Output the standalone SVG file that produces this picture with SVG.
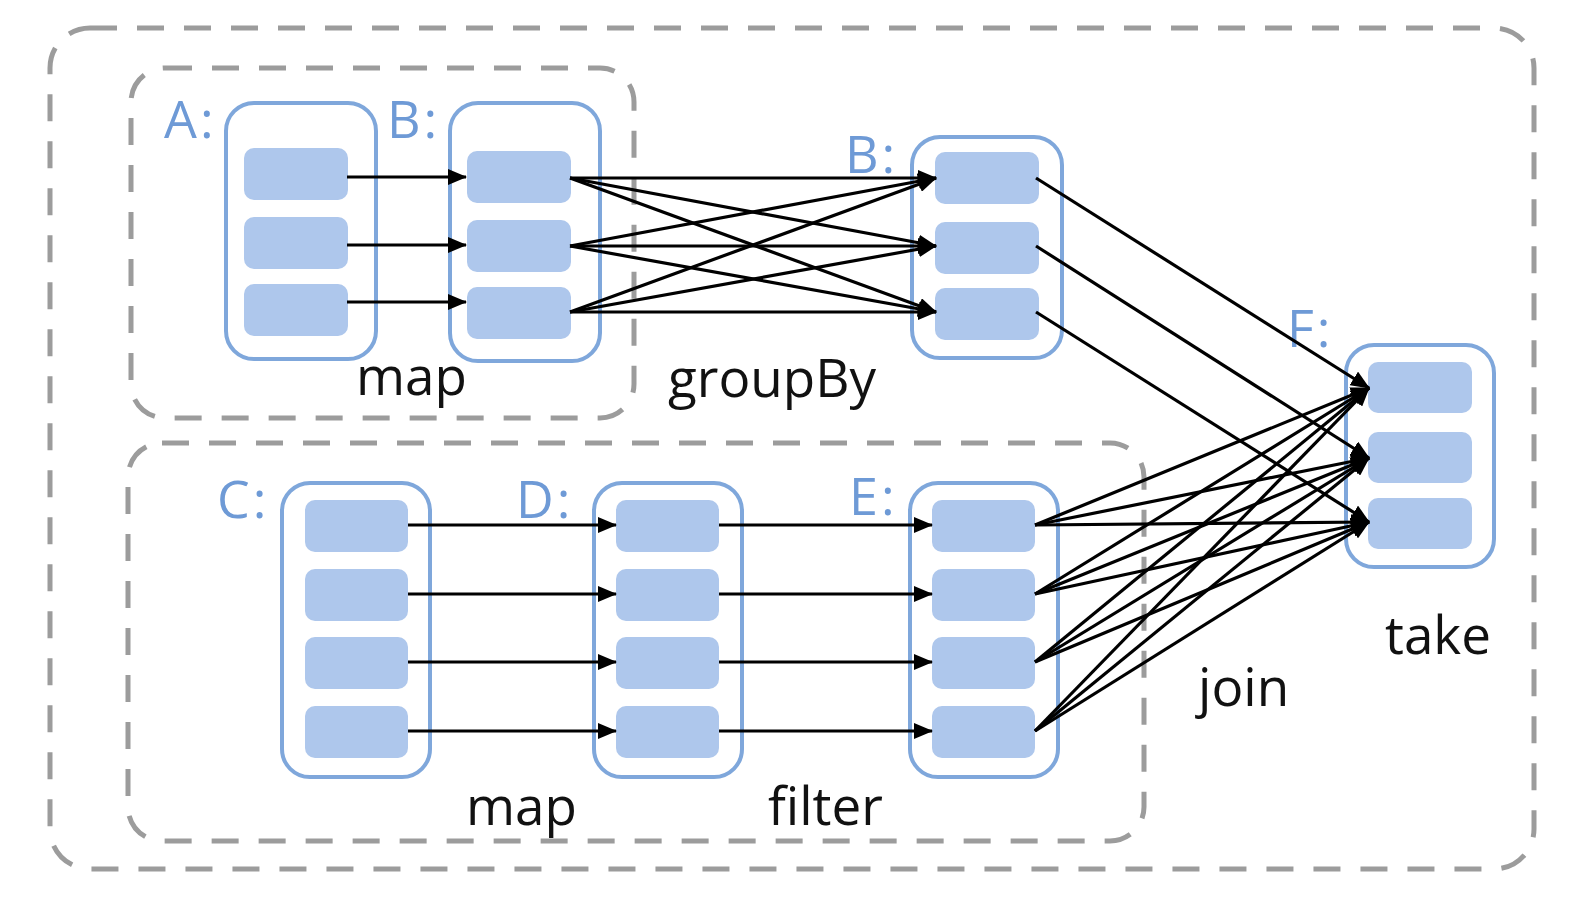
<svg xmlns="http://www.w3.org/2000/svg" width="1578" height="924" viewBox="0 0 1578 924">
<style>
.grp{fill:none;stroke:#9c9c9c;stroke-width:5;stroke-dasharray:27 20}
.box{fill:#ffffff;stroke:#7fa7db;stroke-width:4}
.item{fill:#aec7ec}
.lbl{font-family:"Open Sans","DejaVu Sans",sans-serif;font-size:52px;fill:#6e9ad6;letter-spacing:3px}
.op{font-family:"Open Sans","DejaVu Sans",sans-serif;font-size:53px;fill:#111111}
.c line{stroke:#000000;stroke-width:3.2;marker-end:url(#ah)}
</style>
<defs>
<marker id="ah" markerWidth="20" markerHeight="16" refX="18" refY="8" orient="auto" markerUnits="userSpaceOnUse">
<path d="M0,0 L19,8 L0,16 Z" fill="#000000"/>
</marker>
</defs>
<rect width="1578" height="924" fill="#ffffff"/>
<g id="stage-outer"><rect class="grp" x="50" y="28" width="1484" height="841" rx="40"/></g>
<g id="stage-top"><rect class="grp" x="131" y="68" width="503" height="350" rx="34"/></g>
<g id="stage-bottom"><rect class="grp" x="128" y="443" width="1016" height="398" rx="34"/></g>

<g id="node-A">
<rect class="box" x="226" y="103" width="150" height="256" rx="28"/>
<rect class="item" x="244" y="148" width="104" height="52" rx="10"/>
<rect class="item" x="244" y="217" width="104" height="52" rx="10"/>
<rect class="item" x="244" y="284" width="104" height="52" rx="10"/>
<text class="lbl" x="164" y="138">A:</text>
</g>
<g id="node-B1">
<rect class="box" x="450" y="103" width="150" height="258" rx="28"/>
<rect class="item" x="467" y="151" width="104" height="52" rx="10"/>
<rect class="item" x="467" y="220" width="104" height="52" rx="10"/>
<rect class="item" x="467" y="287" width="104" height="52" rx="10"/>
<text class="lbl" x="387" y="138">B:</text>
</g>
<g id="node-B2">
<rect class="box" x="912" y="137" width="150" height="221" rx="28"/>
<rect class="item" x="935" y="152" width="104" height="52" rx="10"/>
<rect class="item" x="935" y="222" width="104" height="52" rx="10"/>
<rect class="item" x="935" y="288" width="104" height="52" rx="10"/>
<text class="lbl" x="845" y="173">B:</text>
</g>
<g id="node-F">
<rect class="box" x="1346" y="345" width="148" height="222" rx="28"/>
<rect class="item" x="1368" y="362" width="104" height="51" rx="10"/>
<rect class="item" x="1368" y="432" width="104" height="51" rx="10"/>
<rect class="item" x="1368" y="498" width="104" height="51" rx="10"/>
<text class="lbl" x="1287" y="347">F:</text>
</g>
<g id="node-C">
<rect class="box" x="282" y="483" width="148" height="294" rx="28"/>
<rect class="item" x="305" y="500" width="103" height="52" rx="10"/>
<rect class="item" x="305" y="569" width="103" height="52" rx="10"/>
<rect class="item" x="305" y="637" width="103" height="52" rx="10"/>
<rect class="item" x="305" y="706" width="103" height="52" rx="10"/>
<text class="lbl" x="217" y="518">C:</text>
</g>
<g id="node-D">
<rect class="box" x="594" y="483" width="148" height="294" rx="28"/>
<rect class="item" x="616" y="500" width="103" height="52" rx="10"/>
<rect class="item" x="616" y="569" width="103" height="52" rx="10"/>
<rect class="item" x="616" y="637" width="103" height="52" rx="10"/>
<rect class="item" x="616" y="706" width="103" height="52" rx="10"/>
<text class="lbl" x="516" y="518">D:</text>
</g>
<g id="node-E">
<rect class="box" x="910" y="483" width="148" height="294" rx="28"/>
<rect class="item" x="932" y="500" width="103" height="52" rx="10"/>
<rect class="item" x="932" y="569" width="103" height="52" rx="10"/>
<rect class="item" x="932" y="637" width="103" height="52" rx="10"/>
<rect class="item" x="932" y="706" width="103" height="52" rx="10"/>
<text class="lbl" x="849" y="515">E:</text>
</g>

<g id="op-labels">
<text class="op" x="356" y="395">map</text>
<text class="op" x="668" y="397">groupBy</text>
<text class="op" x="466" y="825">map</text>
<text class="op" x="768" y="825">filter</text>
<text class="op" x="1198" y="706">join</text>
<text class="op" x="1385" y="654">take</text>
</g>

<g id="connectors" class="c">
<line x1="347" y1="177" x2="466" y2="177"/>
<line x1="347" y1="245" x2="466" y2="245"/>
<line x1="347" y1="302" x2="466" y2="302"/>

<line x1="570" y1="178" x2="936" y2="178"/>
<line x1="570" y1="178" x2="936" y2="246"/>
<line x1="570" y1="178" x2="936" y2="312"/>
<line x1="570" y1="246" x2="936" y2="178"/>
<line x1="570" y1="246" x2="936" y2="246"/>
<line x1="570" y1="246" x2="936" y2="312"/>
<line x1="570" y1="312" x2="936" y2="178"/>
<line x1="570" y1="312" x2="936" y2="246"/>
<line x1="570" y1="312" x2="936" y2="312"/>

<line x1="1036" y1="178" x2="1369" y2="388"/>
<line x1="1036" y1="246" x2="1369" y2="458"/>
<line x1="1036" y1="312" x2="1369" y2="522"/>

<line x1="408" y1="525" x2="616" y2="525"/>
<line x1="408" y1="594" x2="616" y2="594"/>
<line x1="408" y1="662" x2="616" y2="662"/>
<line x1="408" y1="731" x2="616" y2="731"/>

<line x1="719" y1="525" x2="932" y2="525"/>
<line x1="719" y1="594" x2="932" y2="594"/>
<line x1="719" y1="662" x2="932" y2="662"/>
<line x1="719" y1="731" x2="932" y2="731"/>

<line x1="1035" y1="525" x2="1369" y2="388"/>
<line x1="1035" y1="525" x2="1369" y2="458"/>
<line x1="1035" y1="525" x2="1369" y2="522"/>
<line x1="1035" y1="594" x2="1369" y2="388"/>
<line x1="1035" y1="594" x2="1369" y2="458"/>
<line x1="1035" y1="594" x2="1369" y2="522"/>
<line x1="1035" y1="662" x2="1369" y2="388"/>
<line x1="1035" y1="662" x2="1369" y2="458"/>
<line x1="1035" y1="662" x2="1369" y2="522"/>
<line x1="1035" y1="731" x2="1369" y2="388"/>
<line x1="1035" y1="731" x2="1369" y2="458"/>
<line x1="1035" y1="731" x2="1369" y2="522"/>
</g>
</svg>
